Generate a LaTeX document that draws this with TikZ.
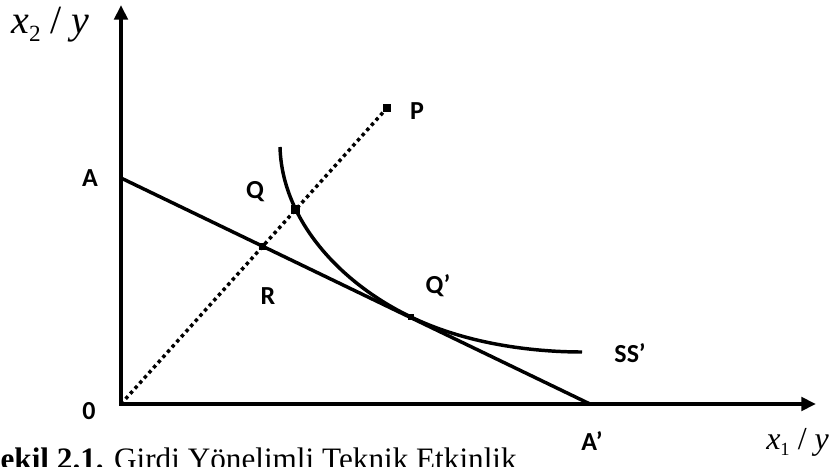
\documentclass[tikz,border=0pt]{standalone}
\usepackage{fontspec}
\setmainfont{Liberation Serif}
\newfontfamily\lblfont{Carlito}
\usetikzlibrary{arrows.meta,intersections}
\tikzset{
  axis/.style={line width=3pt, line join=miter,
               {Triangle[length=11pt,width=10pt]}-{Triangle[length=11pt,width=10pt]}},
  budget/.style={line width=2.6pt},
  isoq/.style={line width=2.6pt},
  ray/.style={line width=2.6pt, dash pattern=on 2.6pt off 2.6pt},
  sqpt/.style={rectangle, fill=black, inner sep=0pt, minimum size=5.5pt},
  lbl/.style={font=\lblfont\bfseries\fontsize{19.5}{22}\selectfont, inner sep=0pt},
  axlbl/.style={inner sep=0pt, anchor=base west},
}
\newcommand{\axname}[2]{\textit{x}\raisebox{-#2}{\fontsize{0.58em}{1em}\selectfont #1}\ /\ \textit{y}}

\begin{document}
\begin{tikzpicture}[x=0.75pt, y=-0.75pt]
  \clip (0,0) rectangle (833,467);
  % axes
  \coordinate (O) at (121,404);
  \coordinate (ytop) at (121,5);
  \coordinate (xend) at (816,404);
  \draw[axis] (ytop) -- (O) -- (xend);
  % budget line and ray
  \coordinate (A) at (121,178);
  \coordinate (Ap) at (590,404);
  \coordinate (P) at (387,108);
  \draw[budget, name path=budget] (A) -- (Ap);
  \draw[ray, name path=ray] (O) -- (P);
  % isoquant SS'
  \coordinate (S) at (280,147);
  \coordinate (Qp) at (411,317);
  \coordinate (Sp) at (582,352);
  \draw[isoq, name path=isoq] (S) .. controls (282,220) and (340,283) .. (Qp)
                                  .. controls (471,346) and (540,352) .. (Sp);
  \path[name intersections={of=ray and budget, by=R}];
  \path[name intersections={of=ray and isoq, by=Q}];
  % points
  \node[sqpt] (pP) at (P) {};
  \node[sqpt, minimum size=6.5pt] (pQ) at (Q) {};
  \node[sqpt] (pR) at (R) {};
  \node[sqpt, minimum size=5pt] (pQp) at (Qp) {};
  % labels
  \node[lbl] (lA) at (90,178) {A};
  \node[lbl] (lQ) at (255,192) {Q};
  \node[lbl] (lP) at (417,111) {P};
  \node[lbl] (lR) at (268,296) {R};
  \node[lbl] (lQp) at (438,286) {Q’};
  \node[lbl] (lS) at (630,353) {SS’};
  \node[lbl] (l0) at (89,411) {0};
  \node[lbl] (lAp) at (592,441) {A’};
  \node[axlbl, font=\fontsize{30}{32}\selectfont] (ly) at (11,34) {\axname{2}{6pt}};
  \node[axlbl, font=\fontsize{24}{26}\selectfont] (lx) at (766,449) {\axname{1}{5pt}};
  % caption
  \node[anchor=base west, inner sep=0pt, font=\fontsize{23.4}{26}\selectfont] (cap) at (-17,469)
    {\textbf{Şekil 2.1.} Girdi Yönelimli Teknik Etkinlik};
\end{tikzpicture}
\end{document}
